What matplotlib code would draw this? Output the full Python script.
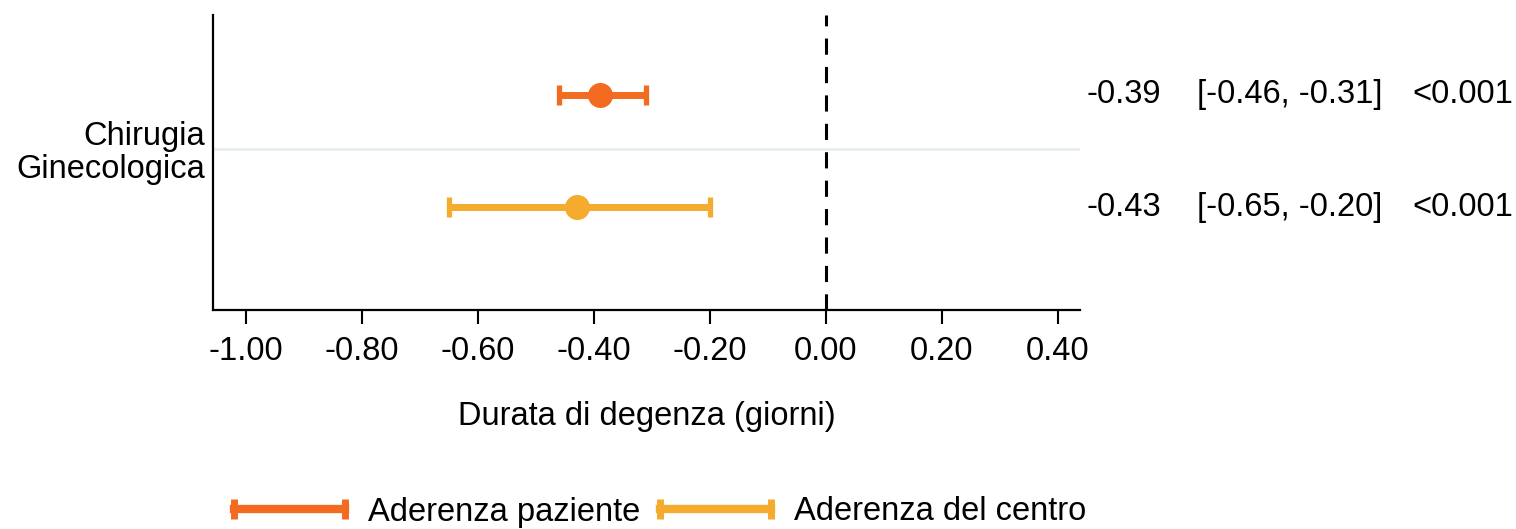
import matplotlib
matplotlib.use("Agg")
import matplotlib.pyplot as plt
import matplotlib.transforms as mtransforms
from matplotlib.lines import Line2D

# data
group_label = "Chirugia\nGinecologica"
series = ["Aderenza paziente", "Aderenza del centro"]
estimate = [-0.39, -0.43]
ci_low = [-0.46, -0.65]
ci_high = [-0.31, -0.20]
p_text = ["<0.001", "<0.001"]
xticks = [-1.0, -0.8, -0.6, -0.4, -0.2, 0.0, 0.2, 0.4]

colors = ["#F26B21", "#F4AB2E"]
ypos = [0.729, 0.349]

plt.rcParams["font.family"] = ["Liberation Sans", "DejaVu Sans"]
fs = 23.5

fig = plt.figure(figsize=(15.16, 5.29), dpi=100)
ax = fig.add_axes([213 / 1516, 1 - 310 / 529, (1080 - 213) / 1516, 295 / 529])

for i in range(len(series)):
    ax.errorbar(estimate[i], ypos[i],
                xerr=[[estimate[i] - ci_low[i]], [ci_high[i] - estimate[i]]],
                fmt="o", color=colors[i], markersize=17, elinewidth=5,
                capsize=7.5, capthick=3.8, zorder=3)

ax.axvline(0, color="black", linestyle=(0, (5.3, 4)), linewidth=2.2, zorder=2)
ax.axhline(0.546, color="#E6EEEE", linewidth=2, zorder=1)

ax.set_xlim(-1.057, 0.438)
ax.set_ylim(0, 1)
ax.set_xticks(xticks)
ax.set_xticklabels(["%.2f" % v for v in xticks], fontsize=fs)
ax.set_yticks([0.546])
ax.set_yticklabels([group_label], fontsize=fs, ha="right", linespacing=1.05)
ax.tick_params(axis="y", length=0, pad=6)
ax.tick_params(axis="x", length=10, width=1.5, pad=9, direction="out")
for s in ["top", "right"]:
    ax.spines[s].set_visible(False)
for s in ["left", "bottom"]:
    ax.spines[s].set_linewidth(1.6)
ax.set_xlabel("Durata di degenza (giorni)", fontsize=fs, labelpad=24)

# right hand text column
tr = mtransforms.blended_transform_factory(fig.transFigure, ax.transData)
for i in range(len(series)):
    ax.text(1086 / 1516, ypos[i], "%.2f" % estimate[i], transform=tr,
            fontsize=fs, va="center", clip_on=False)
    ax.text(1197 / 1516, ypos[i], "[%.2f, %.2f]" % (ci_low[i], ci_high[i]),
            transform=tr, fontsize=fs, va="center", clip_on=False)
    ax.text(1412 / 1516, ypos[i], p_text[i], transform=tr,
            fontsize=fs, va="center", clip_on=False)

handles = [Line2D([0, 1], [0, 0], color=c, linewidth=6, marker="|",
                  markersize=14, markeredgewidth=5) for c in colors]
fig.legend(handles, series, loc="center", bbox_to_anchor=(655 / 1516, 1 - 512 / 529),
           ncol=2, frameon=False, fontsize=fs, numpoints=2, handlelength=4.0,
           handletextpad=0.4, columnspacing=0.3)

fig.savefig("out.png", dpi=100)
